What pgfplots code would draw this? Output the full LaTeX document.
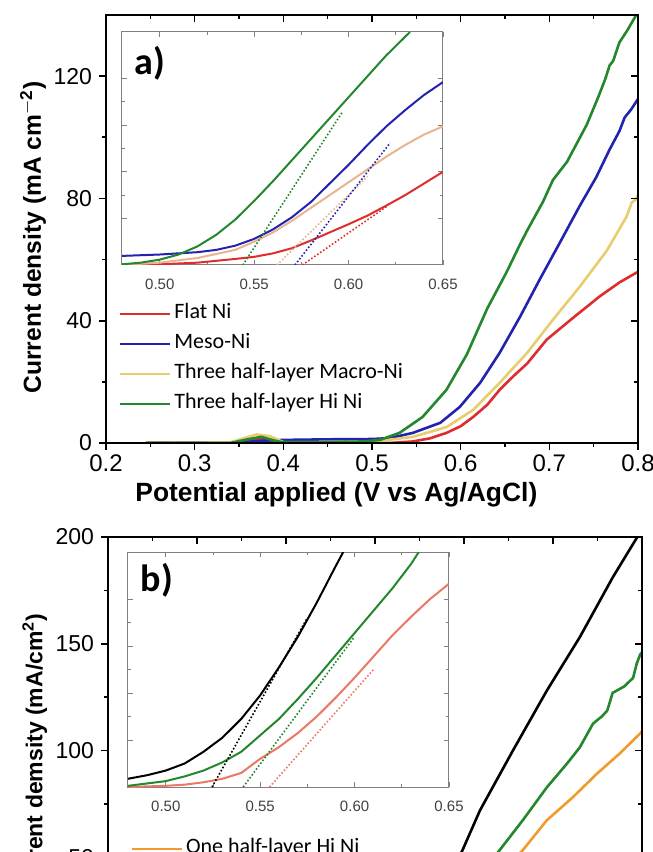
\documentclass[border=0pt]{standalone}
\usepackage{pgfplots}
\pgfplotsset{compat=1.18}
\usepackage{fontspec}
\setmainfont{Liberation Sans}
\newfontfamily\calfont{Carlito}

\definecolor{cRed}{RGB}{222,45,45}
\definecolor{cBlue}{RGB}{35,35,175}
\definecolor{cYel}{RGB}{232,205,110}
\definecolor{cGrn}{RGB}{35,135,45}
\definecolor{cTan}{RGB}{232,180,145}
\definecolor{cOra}{RGB}{242,155,45}
\definecolor{cSal}{RGB}{235,120,100}

\pgfplotsset{
  mainax/.style={scale only axis, anchor=south west,
    xmin=0.2, xmax=0.8, xtick={0.2,0.3,0.4,0.5,0.6,0.7,0.8}, minor x tick num=1,
    minor y tick num=1,
    tick align=outside, xtick pos=left, ytick pos=left,
    major tick length=3.5pt, minor tick length=2pt,
    axis line style={line width=0.9pt}, tick style={line width=0.8pt, black},
    /pgf/number format/assume math mode=true,
    yticklabel style={font=\fontsize{11.5}{12}\selectfont},
    xticklabel style={font=\fontsize{12}{12}\selectfont, yshift=1pt,
      /pgf/number format/.cd, fixed, precision=1},
    legend cell align=left,
    legend image code/.code={\draw[##1, line width=1.3pt] (0pt,0pt) -- (25pt,0pt);},
    legend style={draw=none, fill=none, anchor=north west, row sep=3pt,
      font=\calfont\fontsize{11}{12}\selectfont,
      nodes={text height=7pt, text depth=2pt, inner sep=1.5pt}},
  },
  mirrax/.style={scale only axis, anchor=south west,
    xmin=0.2, xmax=0.8, xtick={0.2,0.3,0.4,0.5,0.6,0.7,0.8}, minor x tick num=1,
    minor y tick num=1,
    tick align=inside, xtick pos=right, ytick pos=right,
    major tick length=3.5pt, minor tick length=2pt,
    axis line style={line width=0.9pt}, tick style={line width=0.8pt, black},
    xticklabels={}, yticklabels={},
  },
  insetax/.style={scale only axis, anchor=south west,
    xmin=0.48, xmax=0.65, ymin=0, ymax=100,
    xtick={0.5,0.55,0.6,0.65}, minor x tick num=1,
    ytick={20,40,60,80}, minor y tick num=1, yticklabels={},
    tick align=inside, xtick pos=both, ytick pos=both,
    major tick length=2.5pt, minor tick length=1.5pt,
    axis line style={line width=0.5pt, gray}, tick style={line width=0.4pt, gray},
    axis background/.style={fill=white},
    /pgf/number format/assume math mode=true,
    xticklabel style={font=\fontsize{7.5}{8}\selectfont, text=darkgray, yshift=-3.5pt,
      /pgf/number format/.cd, fixed, fixed zerofill, precision=2},
  },
}

\begin{document}
\begin{tikzpicture}
\path[use as bounding box] (0pt,0pt) rectangle (326.5pt,426pt);
\clip (0pt,0pt) rectangle (326.5pt,426pt);

% ---------------- panel a ----------------
\begin{axis}[mainax, at={(53pt,204.5pt)}, width=266pt, height=214pt,
  ymin=0, ymax=140, ytick={0,40,80,120},
  xlabel={Potential applied (V vs Ag/AgCl)},
  ylabel={Current density (mA cm$^{\mathbf{-2}}$)},
  xlabel style={at={(axis description cs:0.433,-0.12)}, anchor=center,
    font=\bfseries\fontsize{13.2}{14}\selectfont},
  ylabel style={at={(axis description cs:-0.137,0.48)}, anchor=center,
    font=\bfseries\fontsize{12.3}{13}\selectfont},
  legend style={at={(0.012,0.34)}}]
\addplot[cRed, line width=1.3pt] coordinates {(0.245,0) (0.30,0) (0.35,0) (0.36,0.8) (0.375,1.5) (0.39,0.5) (0.40,0) (0.45,0) (0.50,0) (0.52,0) (0.546,0.5) (0.565,1.5) (0.584,3.3) (0.60,5.5) (0.614,8.5) (0.63,12.5) (0.644,17.4) (0.66,22) (0.675,26) (0.697,33.8) (0.727,41) (0.757,48) (0.779,52.5) (0.80,56)};
\addlegendentry{Flat Ni}
\addplot[cBlue, line width=1.3pt] coordinates {(0.245,0) (0.35,0.2) (0.38,0.8) (0.40,1.0) (0.45,1.2) (0.50,1.3) (0.52,1.6) (0.546,3.3) (0.577,6.6) (0.599,11.8) (0.622,19.7) (0.644,29.5) (0.667,41.3) (0.689,53.4) (0.712,65.6) (0.734,77.4) (0.753,87) (0.768,96) (0.779,102) (0.785,106.5) (0.792,109) (0.80,112.5)};
\addlegendentry{Meso-Ni}
\addplot[cYel, line width=1.3pt] coordinates {(0.245,0) (0.34,0.2) (0.355,1.5) (0.37,2.8) (0.385,2.2) (0.40,0.3) (0.45,0.3) (0.50,0.5) (0.509,0.7) (0.546,2) (0.584,5.2) (0.614,10.8) (0.644,19.7) (0.675,29.5) (0.704,40.3) (0.734,51) (0.765,63) (0.787,74) (0.793,78.7) (0.797,79.5) (0.80,81)};
\addlegendentry{Three half-layer Macro-Ni}
\addplot[cGrn, line width=1.3pt] coordinates {(0.245,0) (0.34,0) (0.36,1.2) (0.375,2) (0.39,0.8) (0.40,0.2) (0.45,0.3) (0.49,0.5) (0.509,1) (0.531,3.3) (0.557,8.5) (0.584,17.4) (0.607,29) (0.630,44) (0.652,56) (0.667,65) (0.675,69.5) (0.693,79) (0.704,86) (0.72,92) (0.742,104) (0.755,113) (0.763,119) (0.768,123.5) (0.772,125) (0.779,131) (0.788,135) (0.796,139) (0.80,141)};
\addlegendentry{Three half-layer Hi Ni}
\end{axis}
\begin{axis}[mirrax, at={(53pt,204.5pt)}, width=266pt, height=214pt,
  ymin=0, ymax=140, ytick={0,40,80,120}]
\end{axis}

% inset a
\begin{axis}[insetax, at={(61pt,293.5pt)}, width=160.5pt, height=116.5pt]
\addplot[cRed, line width=1pt] coordinates {(0.48,0) (0.50,0.3) (0.52,1) (0.53,1.8) (0.54,2.6) (0.55,3.5) (0.56,5) (0.57,7.2) (0.58,10.5) (0.59,14) (0.60,17.5) (0.61,21.2) (0.62,25.5) (0.63,30) (0.64,35) (0.65,40)};
\addplot[cTan, line width=1pt] coordinates {(0.48,0) (0.50,1) (0.52,3) (0.54,6.5) (0.55,10) (0.56,14) (0.57,19) (0.58,24.5) (0.59,30) (0.60,35.5) (0.61,41) (0.62,46.5) (0.63,51.5) (0.64,56) (0.65,59.5)};
\addplot[cBlue, line width=1pt] coordinates {(0.48,3.9) (0.50,4.5) (0.52,5.5) (0.53,6.5) (0.54,8.3) (0.55,11.2) (0.56,15.3) (0.57,20.5) (0.58,27) (0.59,35) (0.60,43) (0.61,51.5) (0.62,59.5) (0.63,66.5) (0.64,73) (0.65,78.5)};
\addplot[cGrn, line width=1pt] coordinates {(0.48,0.3) (0.49,1) (0.50,2.3) (0.51,4.5) (0.52,8) (0.53,13) (0.54,19.5) (0.55,27.5) (0.56,36) (0.57,45) (0.58,54) (0.59,63) (0.60,72) (0.61,81) (0.62,90) (0.6325,100)};
\addplot[cGrn, densely dotted, line width=0.8pt] coordinates {(0.544,0) (0.597,66)};
\addplot[cTan, densely dotted, line width=0.8pt] coordinates {(0.562,0) (0.61,38)};
\addplot[cBlue, densely dotted, line width=0.8pt] coordinates {(0.5716,0) (0.622,52.4)};
\addplot[cRed, densely dotted, line width=0.8pt] coordinates {(0.5755,0) (0.62,25)};
\node[font=\calfont\bfseries\fontsize{19}{19}\selectfont] at (rel axis cs:0.087,0.867) {a)};
\end{axis}

% ---------------- panel b ----------------
\begin{axis}[mainax, at={(54pt,-56pt)}, width=267pt, height=213.5pt,
  ymin=0, ymax=200, ytick={0,50,100,150,200},
  ylabel={Current demsity (mA/cm$^{\mathbf{2}}$)},
  ylabel style={at={(axis description cs:-0.137,0.487)}, anchor=center,
    font=\bfseries\fontsize{11.5}{12}\selectfont},
  legend style={at={(0.03,0.308)}}]
\addplot[cOra, line width=1.3pt] coordinates {(0.25,0) (0.50,0.5) (0.52,1.5) (0.54,4) (0.56,9) (0.58,16) (0.60,25) (0.62,33) (0.64,42) (0.666,53.3) (0.693,67.3) (0.722,78) (0.749,89) (0.775,98.6) (0.798,108) (0.80,109)};
\addlegendentry{One half-layer Hi Ni}
\addplot[cGrn, line width=1.3pt, forget plot] coordinates {(0.25,0) (0.50,1) (0.52,3) (0.54,7) (0.56,14) (0.58,23) (0.60,33) (0.62,43) (0.640,53.3) (0.666,67.3) (0.693,82.7) (0.716,94) (0.730,101.4) (0.745,112.6) (0.755,116) (0.761,118.7) (0.767,127) (0.78,130) (0.790,134) (0.794,140.6) (0.798,145) (0.80,146)};
\addplot[black, line width=1.3pt, forget plot] coordinates {(0.25,0) (0.45,0.5) (0.50,2) (0.52,6) (0.54,15) (0.56,27) (0.58,40) (0.598,53) (0.618,72) (0.655,100) (0.693,128) (0.730,153) (0.767,181) (0.794,199.5) (0.796,201)};
\end{axis}
\begin{axis}[mirrax, at={(54pt,-56pt)}, width=267pt, height=213.5pt,
  ymin=0, ymax=200, ytick={0,50,100,150,200}]
\end{axis}

% inset b
\begin{axis}[insetax, at={(64pt,32.5pt)}, width=160.5pt, height=117.5pt]
\addplot[cSal, line width=1pt] coordinates {(0.48,0) (0.50,0.5) (0.51,1) (0.52,2) (0.53,3.5) (0.54,6) (0.55,12) (0.56,17) (0.57,23) (0.58,30) (0.59,38) (0.60,46.5) (0.61,55.5) (0.62,64.5) (0.63,72.5) (0.64,80) (0.65,86.5)};
\addplot[cGrn, line width=1pt] coordinates {(0.48,0.5) (0.50,2.5) (0.51,4.5) (0.52,7) (0.53,10.5) (0.54,15) (0.55,22) (0.56,29) (0.57,37.5) (0.58,46.5) (0.59,56) (0.60,65.5) (0.61,75) (0.62,84.5) (0.63,95) (0.634,100)};
\addplot[black, line width=1pt] coordinates {(0.48,3.5) (0.49,5) (0.50,7) (0.51,10) (0.52,15) (0.53,21) (0.54,29) (0.55,39) (0.56,51) (0.57,64) (0.58,78.5) (0.59,94) (0.594,100)};
\addplot[black, densely dotted, line width=0.8pt] coordinates {(0.5245,0) (0.575,72)};
\addplot[cGrn, densely dotted, line width=0.8pt] coordinates {(0.541,0) (0.60,64)};
\addplot[cSal, densely dotted, line width=0.8pt] coordinates {(0.555,0) (0.61,50)};
\node[font=\calfont\bfseries\fontsize{19}{19}\selectfont] at (rel axis cs:0.09,0.881) {b)};
\end{axis}
\end{tikzpicture}
\end{document}
